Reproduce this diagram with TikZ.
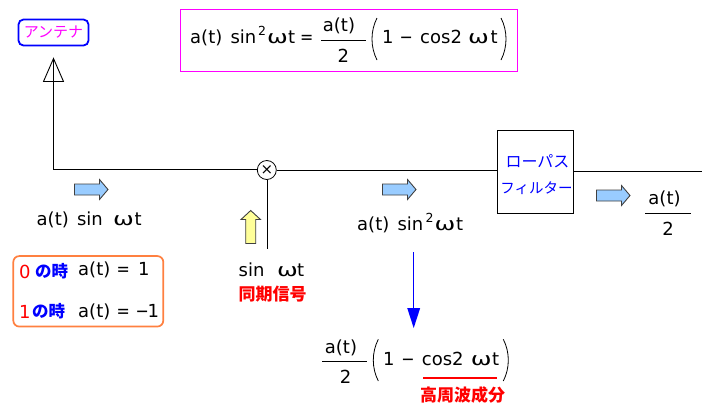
\documentclass[tikz,border=0pt]{standalone}
\usepackage{graphicx}
\usepackage{fontspec}
\setmainfont{DejaVu Sans}
\newfontfamily\jpfont{Noto Sans CJK JP}
\usetikzlibrary{arrows.meta}
\definecolor{sigblue}{RGB}{153,204,255}
\definecolor{sigyellow}{RGB}{255,255,153}
\definecolor{notepeach}{RGB}{255,128,64}
\definecolor{boxmagenta}{RGB}{255,0,255}
\definecolor{jpblue}{RGB}{0,0,255}
% wide omega, short minus and short equals of the formula lettering
\newcommand{\wom}{\scalebox{1.38}[1]{ω}}
\newcommand{\smin}{\scalebox{0.88}[1]{−}}
\newcommand{\seq}{\scalebox{0.88}[1]{=}}
\newcommand{\asin}{a(t)\hspace{2.5pt} sin}
\tikzset{
  x=1pt,y=-1pt,
  wire/.style={line width=1pt,black},
  eq/.style={inner sep=0pt,anchor=base west,font=\fontsize{18}{20}\selectfont,text=black},
  eqc/.style={inner sep=0pt,anchor=base,font=\fontsize{18}{20}\selectfont,text=black},
  sup/.style={inner sep=0pt,anchor=base west,font=\fontsize{12.5}{14}\selectfont,text=black},
  jpbold/.style={inner sep=0pt,anchor=base west,font=\jpfont\bfseries\fontsize{17}{18}\selectfont,text=red},
  jpnote/.style={inner sep=0pt,anchor=base west,text=jpblue,font=\jpfont\bfseries\fontsize{16.5}{18}\selectfont},
  rednum/.style={inner sep=0pt,anchor=base west,text=red,font=\fontsize{18}{20}\selectfont},
  fracbar/.style={line width=1pt,black},
  paren/.style={line width=0.8pt,black},
  sigarrow/.style={draw=black!75,line width=0.9pt,line join=miter},
}
\newcommand{\rightblock}[2]{% blue block arrow: tail x, centre y
  \fill[sigblue,sigarrow] (#1+.5,#2-5.5) -- ++(25,0) -- ++(0,-4.5) -- ++(8.5,10) -- ++(-8.5,10) -- ++(0,-4.5) -- ++(-25,0) -- cycle;}
\newcommand{\parens}[4]{% tall bracket pair: outer left x, outer right x, top y, bottom y
  \draw[paren] (#1+5,#3) .. controls (#1-1.67,#3+13) and (#1-1.67,#4-13) .. (#1+5,#4);
  \draw[paren] (#2-5,#3) .. controls (#2+1.67,#3+13) and (#2+1.67,#4-13) .. (#2-5,#4);}
\begin{document}
\begin{tikzpicture}
\useasboundingbox (0,0) rectangle (708,408);
\fill[white] (0,0) rectangle (708,408);

% antenna label and symbol
\node[draw=jpblue,line width=1.8pt,rounded corners=5pt,minimum width=70pt,minimum height=26pt,inner sep=0pt,
      text=boxmagenta,font=\jpfont\fontsize{15}{18}\selectfont] (ant) at (53.5,32.5) {アンテナ};
\coordinate (corner) at (53.5,169.5);
\coordinate (anttop) at (53.5,60);
\node[circle,draw=black,line width=0.8pt,minimum size=19pt,inner sep=0pt,font=\fontsize{15}{16}\selectfont] (mix) at (266.8,170) {×};
\node[draw=black,line width=1pt,fill=white,minimum width=76pt,minimum height=83pt,inner sep=0pt] (lpf) at (535.5,172) {};
\coordinate (out) at (702,171.5);
\coordinate (ref) at (267.5,249);

\draw[wire] (corner) -- (mix.west |- corner);
\draw[wire] (mix.east |- 0,170.5) -- (lpf.west |- 0,170.5);
\draw[wire] (lpf.east |- out) -- (out);
\draw[wire] (corner.south) -- (anttop);
\draw[wire] (267.5,179.5) -- (ref);
\draw[line width=0.9pt,black,line join=miter] (53.5,58.5) -- (63.5,81.5) -- (43.5,81.5) -- cycle;

% low pass filter caption
\node[inner sep=0pt,text=jpblue,font=\jpfont\fontsize{16}{18}\selectfont] (lpf1) at (537.5,161) {ローパス};
\node[inner sep=0pt,text=jpblue,font=\jpfont\fontsize{14.5}{18}\selectfont] (lpf2) at (536.5,188) {フィルター};

% identity in the framed box
\node[draw=boxmagenta,line width=1pt,minimum width=337pt,minimum height=62pt,inner sep=0pt] (idbox) at (349,40.5) {};
\node[eq] (i1) at (190,43) {\asin};
\node[sup] (i2) at (258,35) {2};
\node[eq] (i3) at (267,43) {\wom};
\node[eq] (i4) at (288,43) {t};
\node[eq] (i5) at (300,43) {\seq};
\node[eqc] (i6) at (339,31) {a(t)};
\node[eqc] (i7) at (343.3,62) {2};
\draw[fracbar] (321,40.5) -- (366,40.5);
\parens{372}{506}{18}{60}
\node[eq] (i8) at (382,43) {1};
\node[eq] (i9) at (399.5,43) {\smin};
\node[eq] (i10) at (420,43) {cos2};
\node[eq] (i11) at (468,43) {\wom};
\node[eq] (i12) at (490.5,43) {t};

% signal before the mixer
\rightblock{74}{189.5}
\node[eq] (s1) at (36.5,225.5) {\asin};
\node[eq] (s2) at (113,225.5) {\wom};
\node[eq] (s3) at (134.5,225.5) {t};

% bit mapping note
\node[draw=notepeach,line width=1.7pt,rounded corners=6pt,minimum width=150pt,minimum height=70.5pt,inner sep=0pt] (note) at (88.3,291.3) {};
\node[rednum] (n0) at (19,278) {0};
\node[jpnote] (n0j) at (35,277) {の時};
\node[eq] (n0e) at (78,275.5) {a(t)};
\node[eq] (n0q) at (116.5,275.5) {\seq};
\node[eq] (n0v) at (138,275.5) {1};
\node[rednum] (n1) at (19,318) {1};
\node[jpnote] (n1j) at (32,317) {の時};
\node[eq] (n1e) at (78,317.5) {a(t)};
\node[eq] (n1q) at (116.5,317.5) {\seq};
\node[eq] (n1m) at (135.5,317.5) {\smin};
\node[eq] (n1v) at (147.5,317.5) {1};

% reference oscillator
\fill[sigyellow,sigarrow] (245.7,243.5) -- (245.7,219.5) -- (241,219.5) -- (250.7,210.5) -- (260.5,219.5) -- (255.7,219.5) -- (255.7,243.5) -- cycle;
\node[eq] (r1) at (238.5,276) {sin};
\node[eq] (r2) at (277,276) {\wom};
\node[eq] (r3) at (297,276) {t};
\node[jpbold] (r4) at (238.5,300.5) {同期信号};

% mixer output
\rightblock{382}{189.5}
\node[eq] (m1) at (357,230.5) {\asin};
\node[sup] (m2) at (425.5,222.5) {2};
\node[eq] (m3) at (434.5,230.5) {\wom};
\node[eq] (m4) at (456,230.5) {t};

% filter output
\rightblock{596}{195.5}
\node[eqc] (o1) at (664.5,204) {a(t)};
\node[eqc] (o2) at (668,235) {2};
\draw[fracbar] (645,213.5) -- (691,213.5);

% expansion of the mixer output
\coordinate (dn0) at (413.5,252);
\coordinate (dn1) at (413.7,328);
\draw[jpblue,line width=1pt] (dn0) -- (413.5,310);
\fill[jpblue] (dn1) -- (407.2,308) -- (420.2,308) -- cycle;
\node[eqc] (e1) at (341,353) {a(t)};
\node[eqc] (e2) at (345.5,383) {2};
\draw[fracbar] (322.3,361.5) -- (367.3,361.5);
\parens{373.3}{508.3}{339.3}{381}
\node[eq] (e3) at (383,365) {1};
\node[eq] (e4) at (401.2,365) {\smin};
\node[eq] (e5) at (421.7,365) {cos2};
\node[eq] (e6) at (470.7,365) {\wom};
\node[eq] (e7) at (492,365) {t};
\draw[red,line width=1.7pt] (423.3,378) -- (496.7,378);
\node[jpbold] (e8) at (420,401) {高周波成分};
\end{tikzpicture}
\end{document}
